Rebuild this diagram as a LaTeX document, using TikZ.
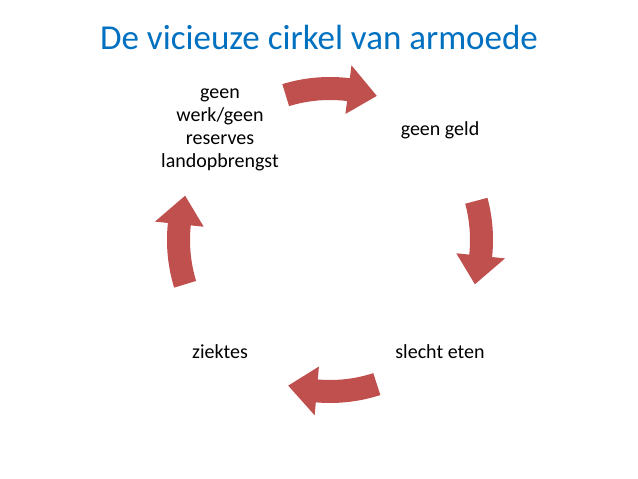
\documentclass[tikz,border=0pt]{standalone}
\usepackage{fontspec}
\setmainfont{Carlito}
\definecolor{arr}{HTML}{C0504D}
\definecolor{ttl}{RGB}{0,112,192}
\tikzset{lbl/.style={font=\fontsize{20}{23}\selectfont, align=center, inner sep=0pt},
 carrow/.style={fill=arr, draw=none}}
\newcommand{\cyclearrow}[3]{% tail, headbase, tip
 \fill[carrow] ($(c)+(#1:140)$) arc[start angle=#1, end angle=#2, radius=140]
   -- ($(c)+(#2:127)$) -- ($(c)+(#3:151.5)$) -- ($(c)+(#2:176)$)
   -- ($(c)+(#2:163)$) arc[start angle=#2, end angle=#1, radius=163] -- cycle;}
\usetikzlibrary{calc}
\begin{document}
\begin{tikzpicture}[x=1pt,y=1pt]
\useasboundingbox (0,0) rectangle (638,479);
\coordinate (c) at (330,239);
\node[font=\fontsize{35}{38}\selectfont, text=ttl] (title) at (319,442) {De vicieuze cirkel van armoede};
\node[lbl] (a) at (220,349) {geen\\werk/geen\\reserves\\landopbrengst};
\node[lbl] (b) at (440,349) {geen geld};
\node[lbl] (d) at (440,127) {slecht eten};
\node[lbl] (e) at (220,127) {ziektes};
\cyclearrow{107}{83}{72}
\cyclearrow{15}{-6}{-17}
\cyclearrow{-72}{-95}{-106}
\cyclearrow{197}{174}{163}
\end{tikzpicture}
\end{document}
